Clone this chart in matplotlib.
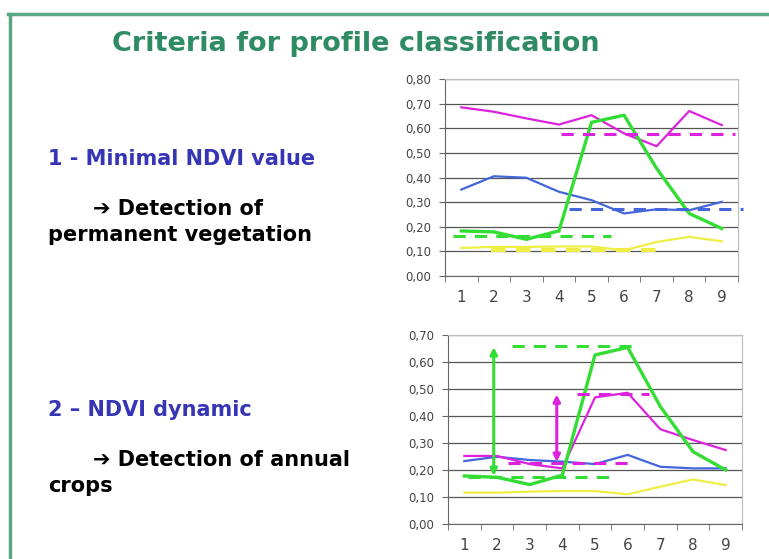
import matplotlib.pyplot as plt
from matplotlib.lines import Line2D
import numpy as np

plt.rcParams['font.family'] = ['DejaVu Sans']

months = [1, 2, 3, 4, 5, 6, 7, 8, 9]

# chart 1 - minimal NDVI value
top_magenta = [0.685, 0.667, 0.64, 0.615, 0.653, 0.579, 0.527, 0.67, 0.613]
top_blue = [0.351, 0.405, 0.399, 0.342, 0.308, 0.254, 0.271, 0.267, 0.301]
top_green = [0.183, 0.179, 0.149, 0.183, 0.624, 0.653, 0.437, 0.254, 0.193]
top_yellow = [0.114, 0.118, 0.118, 0.12, 0.12, 0.104, 0.138, 0.159, 0.141]
# threshold dashes: (value, x start, x end)
top_thresholds = {
    'magenta': (0.576, 4.05, 9.4),
    'blue': (0.271, 4.3, 9.65),
    'green': (0.161, 0.75, 5.6),
    'yellow': (0.107, 1.9, 7.05),
}

# chart 2 - NDVI dynamic
bot_green = [0.178, 0.173, 0.146, 0.181, 0.626, 0.654, 0.435, 0.268, 0.2]
bot_magenta = [0.252, 0.252, 0.222, 0.206, 0.469, 0.486, 0.351, 0.311, 0.274]
bot_blue = [0.233, 0.249, 0.237, 0.231, 0.222, 0.256, 0.212, 0.206, 0.206]
bot_yellow = [0.116, 0.116, 0.12, 0.122, 0.122, 0.11, 0.138, 0.165, 0.144]
bot_thresholds = [
    ('green', 0.659, 2.45, 6.25),
    ('green', 0.175, 1.12, 5.5),
    ('magenta', 0.481, 4.45, 6.65),
    ('magenta', 0.227, 2.35, 6.0),
]
# amplitude arrows: (colour, x, low, high)
bot_arrows = [('green', 1.9, 0.178, 0.655), ('magenta', 3.83, 0.23, 0.48)]

colors = {'magenta': '#dd22dd', 'blue': '#4466dd', 'green': '#33dd33', 'yellow': '#eeee44'}
frame_col = '#5aa882'
W, H = 769, 559


def px_axes(fig, x0, y0, x1, y1):
    return fig.add_axes([x0 / W, 1 - y1 / H, (x1 - x0) / W, (y1 - y0) / H])


def style_axes(ax, ymax):
    ticks = np.arange(0, ymax + 0.001, 0.1)
    ax.set_xlim(0.5, 9.5)
    ax.set_ylim(0, ymax)
    ax.set_yticks(ticks)
    ax.set_yticklabels([('%.2f' % v).replace('.', ',') for v in ticks])
    ax.set_xticks(months)
    ax.set_xticks(np.arange(0.5, 10, 1), minor=True)
    ax.tick_params(axis='x', which='major', length=0, labelsize=11, labelcolor='#444444', pad=10)
    ax.tick_params(axis='x', which='minor', length=4, color='#666666')
    ax.tick_params(axis='y', length=4, pad=6, labelsize=8.5, labelcolor='#444444', color='#666666')
    ax.grid(axis='y', color='#555555', lw=0.9)
    ax.set_axisbelow(True)
    for s in ['left', 'bottom']:
        ax.spines[s].set_color('#666666')
    for s in ['top', 'right']:
        ax.spines[s].set_color('#bbbbbb')


fig = plt.figure(figsize=(W / 100, H / 100), dpi=100)

# slide frame
fig.add_artist(Line2D([8 / W, 1], [1 - 14 / H, 1 - 14 / H], color=frame_col, lw=2.5))
fig.add_artist(Line2D([10 / W, 10 / W], [0, 1 - 14 / H], color=frame_col, lw=2.5))

fig.text(356 / W, 1 - 44 / H, 'Criteria for profile classification', color='#2e8b64',
         fontsize=19.5, fontweight='bold', ha='center', va='center')

blue_txt = '#3535b5'
fs = 15
fig.text(48 / W, 1 - 159 / H, '1 - Minimal NDVI value', color=blue_txt, fontsize=fs,
         fontweight='bold', va='center')
fig.text(93 / W, 1 - 209 / H, '\u2794 Detection of', fontsize=fs, fontweight='bold', va='center')
fig.text(48 / W, 1 - 235 / H, 'permanent vegetation', fontsize=fs, fontweight='bold', va='center')
fig.text(48 / W, 1 - 410 / H, '2 \u2013 NDVI dynamic', color=blue_txt, fontsize=fs,
         fontweight='bold', va='center')
fig.text(93 / W, 1 - 460 / H, '\u2794 Detection of annual', fontsize=fs, fontweight='bold',
         va='center')
fig.text(48 / W, 1 - 486 / H, 'crops', fontsize=fs, fontweight='bold', va='center')

# top chart
ax1 = px_axes(fig, 445, 79, 738, 276)
style_axes(ax1, 0.8)
for key, vals in [('magenta', top_magenta), ('blue', top_blue), ('yellow', top_yellow)]:
    ax1.plot(months, vals, color=colors[key], lw=1.6)
ax1.plot(months, top_green, color=colors['green'], lw=2.4)
for key, (v, xa, xb) in top_thresholds.items():
    lw, dash = (3.0, (3.5, 2.5)) if key == 'yellow' else (2.2, (4, 3))
    ax1.plot([xa, xb], [v, v], color=colors[key], lw=lw, ls=(0, dash), clip_on=False)

# bottom chart
ax2 = px_axes(fig, 448, 335, 742, 524)
style_axes(ax2, 0.7)
ax2.plot(months, bot_yellow, color=colors['yellow'], lw=1.6)
ax2.plot(months, bot_blue, color=colors['blue'], lw=1.6)
ax2.plot(months, bot_magenta, color=colors['magenta'], lw=1.6)
ax2.plot(months, bot_green, color=colors['green'], lw=2.4)
for key, v, xa, xb in bot_thresholds:
    ax2.plot([xa, xb], [v, v], color=colors[key], lw=2.2, ls=(0, (4, 3)))
for key, x, lo, hi in bot_arrows:
    ax2.annotate('', xy=(x, hi), xytext=(x, lo),
                 arrowprops=dict(arrowstyle='<|-|>', color=colors[key], lw=2.2,
                                 mutation_scale=10, shrinkA=0, shrinkB=0))

fig.savefig('out.png', dpi=100)
